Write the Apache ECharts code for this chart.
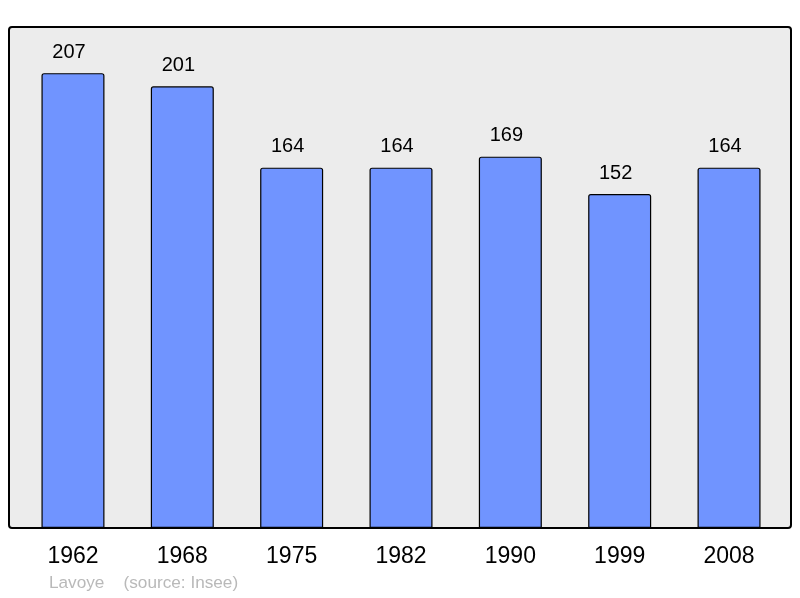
<!DOCTYPE html>
<html><head><meta charset="utf-8">
<script src="https://cdn.jsdelivr.net/npm/echarts@6/dist/echarts.min.js"></script>
<style>html,body{margin:0;padding:0;background:#fff}#c{width:800px;height:598px}</style>
</head><body><div id="c"></div>
<script>
const categories = ['1962','1968','1975','1982','1990','1999','2008'];
const populationValues = [207, 201, 164, 164, 169, 152, 164];
const footerText = 'Lavoye    (source: Insee)';

const chart = echarts.init(document.getElementById('c'), null, {renderer:'canvas'});
chart.setOption({
  animation: false,
  backgroundColor: '#ffffff',
  graphic: [
    {type:'rect', z:0, shape:{x:9, y:27, width:782, height:501, r:3},
     style:{fill:'#ececec', stroke:'#000', lineWidth:2}},
    {type:'text', left:49, top:575, z:5,
     style:{text: footerText, fill:'#b9b9b9', font:'17.2px "Liberation Sans", Arial, sans-serif'}}
  ],
  grid: {left:18.3, right:16.3, top:27, bottom:70, containLabel:false},
  xAxis: {
    type:'category', data: categories,
    axisLine:{show:false}, axisTick:{show:false},
    axisLabel:{color:'#000', fontSize:23, margin:17, fontFamily:'"Liberation Sans", Arial, sans-serif'}
  },
  yAxis: {
    type:'value', min:0, max:228, show:false, splitLine:{show:false}
  },
  series: [{
    type:'bar', data: populationValues, barWidth:63, z:2,
    itemStyle:{color:'#7094ff', borderColor:'#000', borderWidth:1.2, borderRadius:[2,2,0,0]},
    label:{show:true, position:'top', distance:11, offset:[-4,0], color:'#000', fontSize:20,
      fontFamily:'"Liberation Sans", Arial, sans-serif'}
  }]
});
</script></body></html>
